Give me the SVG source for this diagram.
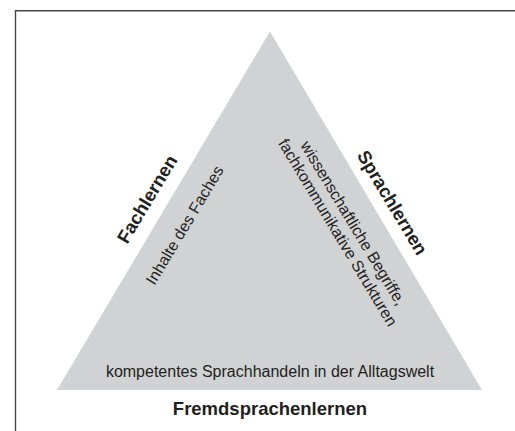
<svg xmlns="http://www.w3.org/2000/svg" width="515" height="431" viewBox="0 0 515 431">
<style>
.frame{fill:none;stroke:#444;stroke-width:1.4}
.tri{fill:#d1d2d4;stroke:none}
.b{font-family:"Liberation Sans",Arial,sans-serif;font-weight:bold;font-size:18.5px;fill:#231f20;text-anchor:middle}
.r{font-family:"Liberation Sans",Arial,sans-serif;font-size:16px;fill:#231f20;text-anchor:middle}
</style>
<rect width="515" height="431" fill="#fff"/>
<path class="frame" d="M15.5,431 V10.7 H515"/>
<g id="triangle">
<polygon class="tri" points="270,31.5 482,390 57,390"/>
<text class="r" x="270" y="377">kompetentes Sprachhandeln in der Alltagswelt</text>
</g>
<g id="fachlernen">
<text class="b" transform="translate(147,199) rotate(-59)" y="6.5">Fachlernen</text>
<text class="r" transform="translate(184.5,225) rotate(-59)" y="5.7">Inhalte des Faches</text>
</g>
<g id="sprachlernen">
<text class="b" transform="translate(392.5,202.5) rotate(59)" y="6.5">Sprachlernen</text>
<text class="r" transform="translate(345.7,227.7) rotate(59)"><tspan x="0" y="-3.3">wissenschaftliche Begriffe,</tspan><tspan x="0" y="14.7">fachkommunikative Strukturen</tspan></text>
</g>
<g id="fremdsprachenlernen">
<text class="b" x="270" y="415">Fremdsprachenlernen</text>
</g>
</svg>
